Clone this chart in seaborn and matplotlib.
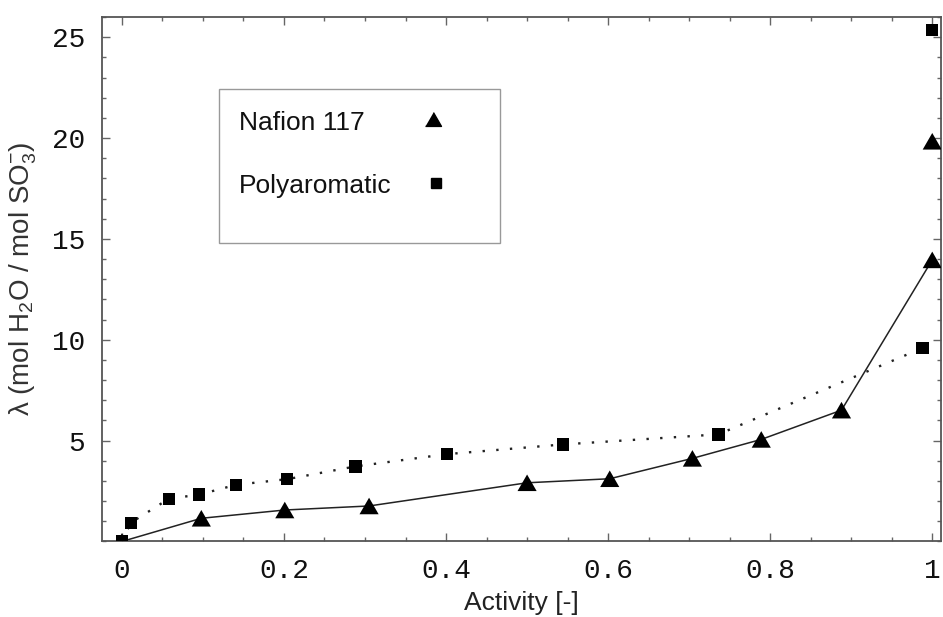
import matplotlib
matplotlib.use("Agg")
import matplotlib.pyplot as plt
from matplotlib.patches import Rectangle
from matplotlib.ticker import MultipleLocator, FixedLocator
import seaborn as sns
import pandas as pd

# ---- data ----
nafion_activity = [0.0, 0.098, 0.201, 0.305, 0.50, 0.602, 0.704, 0.789, 0.888, 1.0]
nafion_lambda = [0.0, 1.15, 1.56, 1.76, 2.91, 3.11, 4.12, 5.06, 6.51, 13.96]
nafion_extra_activity = [1.0]
nafion_extra_lambda = [19.84]

poly_activity = [0.0, 0.011, 0.058, 0.095, 0.141, 0.204, 0.288, 0.401, 0.544, 0.736, 0.988]
poly_lambda = [0.0, 0.93, 2.12, 2.32, 2.81, 3.09, 3.72, 4.33, 4.81, 5.31, 9.59]
poly_extra_activity = [1.0]
poly_extra_lambda = [25.36]

x_ticks = [0, 0.2, 0.4, 0.6, 0.8, 1.0]
x_tick_labels = ["0", "0.2", "0.4", "0.6", "0.8", "1"]
y_ticks = [5, 10, 15, 20, 25]
y_tick_labels = ["5", "10", "15", "20", "25"]
series_labels = ["Nafion 117", "Polyaromatic"]

sns.set_theme(style="ticks")
plt.rcParams["font.family"] = ["Liberation Sans", "DejaVu Sans"]
plt.rcParams["mathtext.fontset"] = "custom"
plt.rcParams["mathtext.rm"] = "Liberation Sans"
plt.rcParams["mathtext.it"] = "Liberation Sans:italic"
plt.rcParams["mathtext.bf"] = "Liberation Sans:bold"

fig = plt.figure(figsize=(9.43, 6.17), dpi=100)
ax = fig.add_axes([0.1078, 0.1224, 0.8900, 0.8500])

tri = [(-1, -0.866), (1, -0.866), (0, 0.866)]

naf = pd.DataFrame({"a": nafion_activity, "l": nafion_lambda})
naf_x = pd.DataFrame({"a": nafion_extra_activity, "l": nafion_extra_lambda})
pol = pd.DataFrame({"a": poly_activity, "l": poly_lambda})
pol_x = pd.DataFrame({"a": poly_extra_activity, "l": poly_extra_lambda})

sns.lineplot(data=naf, x="a", y="l", ax=ax, color="#222222", lw=1.1,
             sort=False, estimator=None, zorder=2)
sns.lineplot(data=pol, x="a", y="l", ax=ax, color="#222222", lw=1.7,
             linestyle=(0, (1, 4.8)), sort=False, estimator=None, zorder=2)

for df in (pol, pol_x):
    sns.scatterplot(data=df, x="a", y="l", ax=ax, marker="s", s=80,
                    color="black", edgecolor="none", zorder=3)
for df in (naf, naf_x):
    sns.scatterplot(data=df, x="a", y="l", ax=ax, marker=tri, s=190,
                    color="black", edgecolor="none", zorder=4)

ax.set_xlim(-0.025, 1.0107)
ax.set_ylim(0, 26)

ax.xaxis.set_major_locator(FixedLocator(x_ticks))
ax.set_xticklabels(x_tick_labels)
ax.xaxis.set_minor_locator(MultipleLocator(0.05))
ax.yaxis.set_major_locator(FixedLocator(y_ticks))
ax.set_yticklabels(y_tick_labels)
ax.yaxis.set_minor_locator(MultipleLocator(1))

ax.tick_params(which="both", direction="in", top=True, right=True,
               color="#666666", width=1.0)
ax.tick_params(which="major", length=6, pad=12)
ax.tick_params(which="minor", length=3)
for lab in ax.get_xticklabels() + ax.get_yticklabels():
    lab.set_fontfamily("Liberation Mono")
    lab.set_fontsize(20)
    lab.set_color("#111111")

for sp in ax.spines.values():
    sp.set_color("#555555")
    sp.set_linewidth(1.3)

ax.set_xlabel("Activity [-]", fontsize=19, color="#222222", labelpad=5)
ax.set_ylabel("λ (mol H$_2$O / mol SO$_3^{-}$)", fontsize=20,
              color="#333333", labelpad=9)

# legend (frame, labels left-aligned, keys to the right)
ax.add_patch(Rectangle((0.1398, 0.5691), 0.3348, 0.2936, transform=ax.transAxes,
                       fill=False, edgecolor="#999999", lw=1.0, zorder=5))
ax.text(0.1636, 0.7845, series_labels[0], transform=ax.transAxes, fontsize=19,
        color="#111111", va="baseline", ha="left")
ax.text(0.1636, 0.6639, series_labels[1], transform=ax.transAxes, fontsize=19,
        color="#111111", va="baseline", ha="left")
ax.plot([0.3951], [0.8055], transform=ax.transAxes, marker=tri, ls="none",
        color="black", markersize=11.5, clip_on=False)
ax.plot([0.3980], [0.6844], transform=ax.transAxes, marker="s", ls="none",
        color="black", markersize=7.4, clip_on=False)

fig.savefig("out.png", dpi=100)
